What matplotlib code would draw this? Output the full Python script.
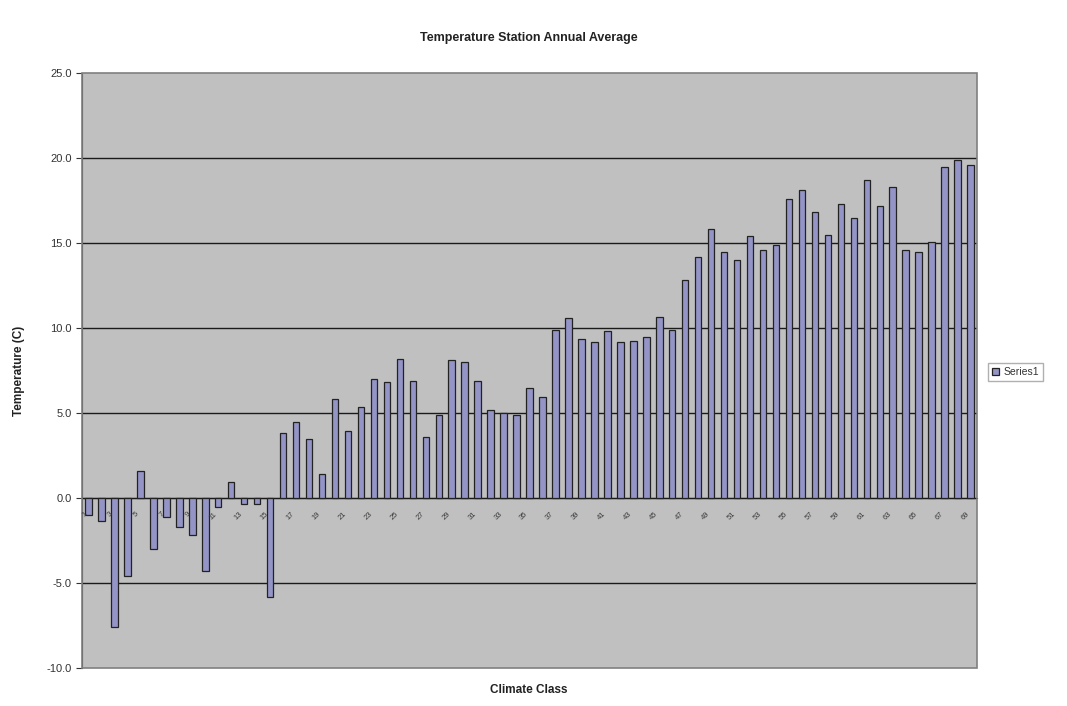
import matplotlib.pyplot as plt
from matplotlib.patches import Rectangle
import numpy as np

plt.rcParams['font.family'] = ['Liberation Sans', 'DejaVu Sans']

# annual average temperature per station, in climate-class order
temps = [-1.0, -1.35, -7.6, -4.6, 1.6, -3.0, -1.1, -1.7, -2.2, -4.3,
         -0.5, 0.95, -0.35, -0.35, -5.8, 3.8, 4.5, 3.5, 1.4, 5.8,
         3.95, 5.35, 7.0, 6.8, 8.2, 6.9, 3.6, 4.9, 8.1, 8.0,
         6.9, 5.2, 5.0, 4.9, 6.5, 5.95, 9.9, 10.6, 9.35, 9.15,
         9.8, 9.15, 9.25, 9.45, 10.65, 9.9, 12.8, 14.2, 15.8, 14.5,
         14.0, 15.4, 14.6, 14.9, 17.6, 18.1, 16.8, 15.5, 17.3, 16.5,
         18.7, 17.2, 18.3, 14.6, 14.45, 15.05, 19.5, 19.9, 19.6]
classes = [str(i + 1) for i in range(len(temps))]
yticks = [-10, -5, 0, 5, 10, 15, 20, 25]

fig = plt.figure(figsize=(10.67, 7.06), dpi=100)
ax = fig.add_axes([0.0769, 0.0538, 0.8388, 0.8428])

x = np.arange(len(temps))
ax.bar(x, temps, width=0.5, color='#9494c6', edgecolor='#222222',
       linewidth=0.9, label='Series1', zorder=3)

ax.set_facecolor('#c0c0c0')
ax.set_xlim(-0.5, len(temps) - 0.5)
ax.set_ylim(-10, 25)
ax.set_yticks(yticks)
ax.set_yticklabels(['%.1f' % v for v in yticks], fontsize=8, color='#333333')
for v in yticks[1:-1]:
    ax.axhline(v, color='#1a1a1a', linewidth=1.0, zorder=1)

# category axis sits on the zero line, labels every other class
ax.spines['bottom'].set_position(('data', 0))
ax.spines['bottom'].set_color('#1a1a1a')
ax.spines['top'].set_visible(False)
ax.spines['right'].set_visible(False)
ax.spines['left'].set_color('#333333')
ax.set_xticks(x[::2])
ax.set_xticklabels(classes[::2], rotation=45, ha='right', fontsize=5.5,
                   color='#3a3a3a')
ax.tick_params(axis='x', length=0, pad=9)
ax.tick_params(axis='y', length=4, direction='out', color='#333333')
ax.xaxis.set_zorder(5)

ax.add_patch(Rectangle((0, 0), 1, 1, transform=ax.transAxes, fill=False,
                       edgecolor='#808080', linewidth=1.2, clip_on=False,
                       zorder=4))

fig.text(0.496, 0.946, 'Temperature Station Annual Average', ha='center',
         va='center', fontsize=9, fontweight='bold', color='#222222')
fig.text(0.496, 0.022, 'Climate Class', ha='center', va='center',
         fontsize=8.5, fontweight='bold', color='#222222')
fig.text(0.018, 0.475, 'Temperature (C)', ha='center', va='center',
         rotation=90, fontsize=8.5, fontweight='bold', color='#222222')

leg = fig.legend(loc='center left', bbox_to_anchor=(0.921, 0.473),
                 fontsize=7.5, fancybox=False, framealpha=1,
                 edgecolor='#b0b0b0', handlelength=0.7, handleheight=0.7,
                 handletextpad=0.4, borderpad=0.4)
for t in leg.get_texts():
    t.set_color('#333333')

fig.savefig('out.png', dpi=100)
